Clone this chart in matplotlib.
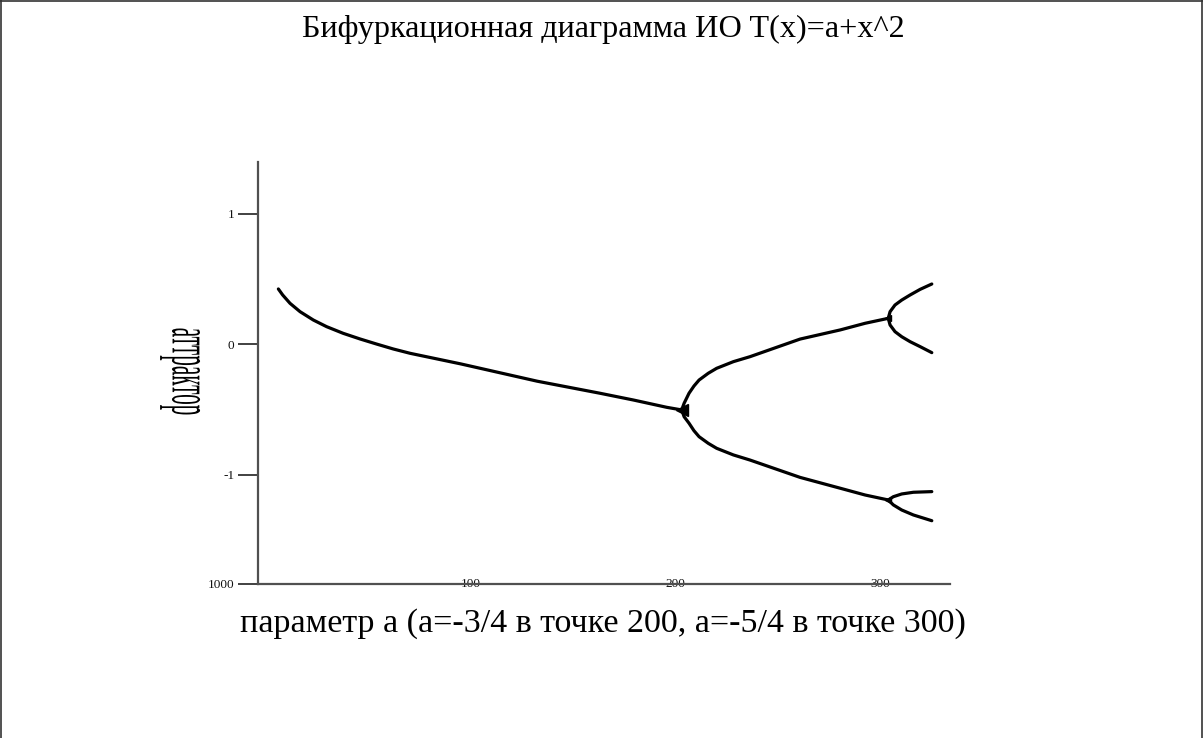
import matplotlib
matplotlib.use("Agg")
import matplotlib.pyplot as plt
from matplotlib.patheffects import AbstractPathEffect
from matplotlib.transforms import Affine2D
from matplotlib.lines import Line2D
from matplotlib.textpath import TextPath
from matplotlib.font_manager import FontProperties

W, H, DPI = 1203, 738, 100
SERIF = "Liberation Serif"

title_text = "Бифуркационная диаграмма ИО T(x)=a+x^2"
xlabel_text = "параметр а (а=-3/4 в точке 200, а=-5/4 в точке 300)"
ylabel_text = "аттрактор"

xticks = [100, 200, 300]
xtick_labels = ["100", "200", "300"]
yticks = [-1.837, -1, 0, 1]
ytick_labels = ["1000", "-1", "0", "1"]

# stable fixed point (period 1)
n_p1 = [5.8, 7.9, 11.5, 16.4, 22.9, 29.4, 37.5, 45.7, 53.8, 62.0, 70.2,
        94.9, 132.4, 163.0, 179.4, 195.7, 203.0]
x_p1 = [0.424, 0.378, 0.314, 0.250, 0.186, 0.135, 0.084, 0.041, 0.002, -0.036,
        -0.069, -0.15, -0.283, -0.375, -0.427, -0.483, -0.503]

# period-2 cycle
n_p2 = [203.0, 204.2, 206.6, 209.0, 211.5, 216.0, 220.1, 228.3, 236.4,
        260.9, 280.5, 292.7, 304.0]
x_p2_hi = [-0.503, -0.452, -0.375, -0.320, -0.274, -0.222, -0.184, -0.133,
           -0.095, 0.04, 0.11, 0.161, 0.199]
x_p2_lo = [-0.503, -0.555, -0.605, -0.662, -0.708, -0.759, -0.797, -0.848,
           -0.887, -1.02, -1.103, -1.155, -1.193]

# period-4 cycle, split of the upper period-2 point
n_p4_top = [304.0, 304.9, 307.3, 310.6, 314.7, 319.6, 325.3]
x_p4_a = [0.199, 0.25, 0.301, 0.339, 0.378, 0.421, 0.462]
x_p4_b = [0.199, 0.148, 0.097, 0.058, 0.02, -0.018, -0.064]
# split of the lower period-2 point
n_p4_bot = [304.0, 306.5, 310.6, 316.3, 325.3]
x_p4_c = [-1.193, -1.168, -1.147, -1.134, -1.129]
x_p4_d = [-1.193, -1.231, -1.27, -1.308, -1.352]

# bifurcation points
n_bif = [203.0, 304.0, 304.0]
x_bif = [-0.503, 0.199, -1.193]


class Squeeze(AbstractPathEffect):
    """Scale glyph outlines about their own centre (reading / upright directions)."""

    def __init__(self, sx=1.0, sy=1.0):
        super().__init__()
        self.sx, self.sy = sx, sy

    def draw_path(self, renderer, gc, tpath, affine, rgbFace=None):
        ext = tpath.get_extents()
        cx, cy = (ext.x0 + ext.x1) / 2, (ext.y0 + ext.y1) / 2
        t = (Affine2D().translate(-cx, -cy).scale(self.sx, self.sy)
             .translate(cx, cy) + affine)
        renderer.draw_path(gc, tpath, t, rgbFace)


fig = plt.figure(figsize=(W / DPI, H / DPI), dpi=DPI)
fig.patch.set_facecolor("white")

# plot area in pixel terms
left_px, right_px, top_px, bot_px = 258, 950, 162, 584
ax = fig.add_axes([left_px / W, 1 - bot_px / H,
                   (right_px - left_px) / W, (bot_px - top_px) / H])
ax.set_xlim(-4.16, 334.2)
ax.set_ylim(-1.837, 1.397)

curve = dict(color="black", lw=2.3, solid_capstyle="round", solid_joinstyle="round")
ax.plot(n_p1, x_p1, **curve)
ax.plot(n_p2, x_p2_hi, **curve)
ax.plot(n_p2, x_p2_lo, **curve)
for branch in (x_p4_a, x_p4_b):
    ax.plot(n_p4_top, branch, **curve)
for branch in (x_p4_c, x_p4_d):
    ax.plot(n_p4_bot, branch, **curve)
ax.plot(n_bif[:1], x_bif[:1], marker="<", ms=8, color="black", ls="none")
ax.plot(n_bif[1:], x_bif[1:], marker="<", ms=5, color="black", ls="none")

for side in ("top", "right"):
    ax.spines[side].set_visible(False)
for side in ("left", "bottom"):
    ax.spines[side].set_color("#505050")
    ax.spines[side].set_linewidth(1.6)

ax.set_xticks(xticks)
ax.set_xticklabels(xtick_labels, fontsize=9.5, family=SERIF, color="#111111")
ax.tick_params(axis="x", length=0, pad=0)
for lbl in ax.get_xticklabels():
    lbl.set_va("center")

ax.set_yticks(yticks)
ax.set_yticklabels(ytick_labels, fontsize=9.5, family=SERIF, color="#111111")
ax.tick_params(axis="y", length=14.4, width=1.3, color="#333333", pad=2.5)

# titles
fig.text(603.6 / W, 1 - 37.5 / H, title_text, ha="center", va="baseline",
         fontsize=23.2, family=SERIF, color="black")
fig.text(603 / W, 1 - 632 / H, xlabel_text, ha="center", va="baseline",
         fontsize=24.5, family=SERIF, color="black")

# tall, narrow vertical axis caption
yl_size = 20
fp = FontProperties(family=SERIF, size=yl_size)
ext = TextPath((0, 0), ylabel_text, size=yl_size, prop=fp).get_extents()
len_px = ext.width * DPI / 72
hgt_px = ext.height * DPI / 72
sx = 86 / len_px
sy = 40 / hgt_px
fig.text(183 / W, 1 - 371.5 / H, ylabel_text, rotation=-90, ha="center",
         va="center", fontsize=yl_size, family=SERIF, color="black",
         path_effects=[Squeeze(sx, sy)])

# page frame
frame = dict(color="#333333", lw=1.2, transform=fig.transFigure)
fig.add_artist(Line2D([1 / W, 1 / W], [0, 1], **frame))
fig.add_artist(Line2D([1 - 1.5 / W, 1 - 1.5 / W], [0, 1], **frame))
fig.add_artist(Line2D([0, 1], [1 - 1 / H, 1 - 1 / H], **frame))

fig.savefig("out.png", dpi=DPI)
